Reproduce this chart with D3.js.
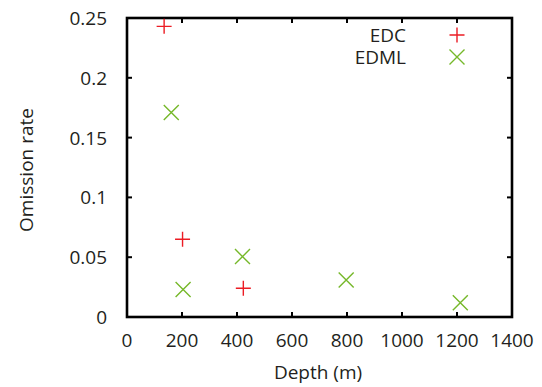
<!DOCTYPE html>
<html>
<head>
<meta charset="utf-8">
<script src="https://cdn.jsdelivr.net/npm/d3@7"></script>
<style>
  body { margin: 0; background: #fff; }
  text { font-family: "Open Sans", sans-serif; fill: #231f20; }
</style>
</head>
<body>
<svg width="542" height="387"></svg>
<script>
// data
var edcDepth = [135, 202, 423];
var edcRate = [0.243, 0.065, 0.024];
var edmlDepth = [161, 204, 420, 797, 1212];
var edmlRate = [0.171, 0.023, 0.0505, 0.031, 0.012];
var xTicks = [0, 200, 400, 600, 800, 1000, 1200, 1400];
var yTicks = [0, 0.05, 0.1, 0.15, 0.2, 0.25];
var seriesNames = ["EDC", "EDML"];
var seriesColors = ["#ec1c24", "#76b82a"];

var svg = d3.select("svg");
var plotLeft = 127, plotRight = 512, plotTop = 18, plotBottom = 317;
var fs = 19;

var x = d3.scaleLinear().domain([0, 1400]).range([plotLeft, plotRight]);
var y = d3.scaleLinear().domain([0, 0.25]).range([plotBottom, plotTop]);

var g = svg.append("g");

// ticks, mirrored on all four sides, pointing inward
var tickLen = 5;
xTicks.forEach(function (t) {
    if (t === 0 || t === 1400) return;
    g.append("line").attr("x1", x(t)).attr("x2", x(t))
        .attr("y1", plotBottom).attr("y2", plotBottom - tickLen)
        .attr("stroke", "#000").attr("stroke-width", 2);
    g.append("line").attr("x1", x(t)).attr("x2", x(t))
        .attr("y1", plotTop).attr("y2", plotTop + tickLen)
        .attr("stroke", "#000").attr("stroke-width", 2);
});
yTicks.forEach(function (t) {
    if (t === 0 || t === 0.25) return;
    g.append("line").attr("x1", plotLeft).attr("x2", plotLeft + tickLen)
        .attr("y1", y(t)).attr("y2", y(t))
        .attr("stroke", "#000").attr("stroke-width", 2);
    g.append("line").attr("x1", plotRight).attr("x2", plotRight - tickLen)
        .attr("y1", y(t)).attr("y2", y(t))
        .attr("stroke", "#000").attr("stroke-width", 2);
});

g.append("rect")
    .attr("x", plotLeft).attr("y", plotTop)
    .attr("width", plotRight - plotLeft).attr("height", plotBottom - plotTop)
    .attr("fill", "none").attr("stroke", "#000").attr("stroke-width", 2.6);

// tick labels
g.selectAll(".xl").data(xTicks).enter().append("text")
    .attr("class", "xl")
    .attr("x", function (d) { return x(d); })
    .attr("y", 347)
    .attr("text-anchor", "middle")
    .attr("font-size", fs)
    .text(function (d) { return d; });

g.selectAll(".yl").data(yTicks).enter().append("text")
    .attr("class", "yl")
    .attr("x", 107)
    .attr("y", function (d) { return y(d) + 7; })
    .attr("text-anchor", "end")
    .attr("font-size", fs)
    .text(function (d) { return d; });

// axis titles
svg.append("text")
    .attr("x", 318).attr("y", 379)
    .attr("text-anchor", "middle")
    .attr("font-size", fs)
    .text("Depth (m)");

svg.append("text")
    .attr("transform", "translate(33,170) rotate(-90)")
    .attr("text-anchor", "middle")
    .attr("font-size", fs)
    .text("Omission rate");

// markers
var half = 7.5;
function plus(sel, cx, cy, color) {
    sel.append("path")
        .attr("d", "M" + (cx - half) + "," + cy + "H" + (cx + half) +
                   "M" + cx + "," + (cy - half) + "V" + (cy + half))
        .attr("stroke", color).attr("stroke-width", 1.4).attr("fill", "none");
}
function cross(sel, cx, cy, color) {
    sel.append("path")
        .attr("d", "M" + (cx - half) + "," + (cy - half) + "L" + (cx + half) + "," + (cy + half) +
                   "M" + (cx - half) + "," + (cy + half) + "L" + (cx + half) + "," + (cy - half))
        .attr("stroke", color).attr("stroke-width", 1.4).attr("fill", "none");
}

var pts = svg.append("g");
edcDepth.forEach(function (d, i) {
    plus(pts, x(d), y(edcRate[i]), seriesColors[0]);
});
edmlDepth.forEach(function (d, i) {
    cross(pts, x(d), y(edmlRate[i]), seriesColors[1]);
});

// legend
var legend = svg.append("g");
var legY = [35, 57];
seriesNames.forEach(function (name, i) {
    legend.append("text")
        .attr("x", 406).attr("y", legY[i] + 7)
        .attr("text-anchor", "end")
        .attr("font-size", fs)
        .text(name);
    if (i === 0) plus(legend, 457, legY[i], seriesColors[i]);
    else cross(legend, 457, legY[i], seriesColors[i]);
});
</script>
</body>
</html>
